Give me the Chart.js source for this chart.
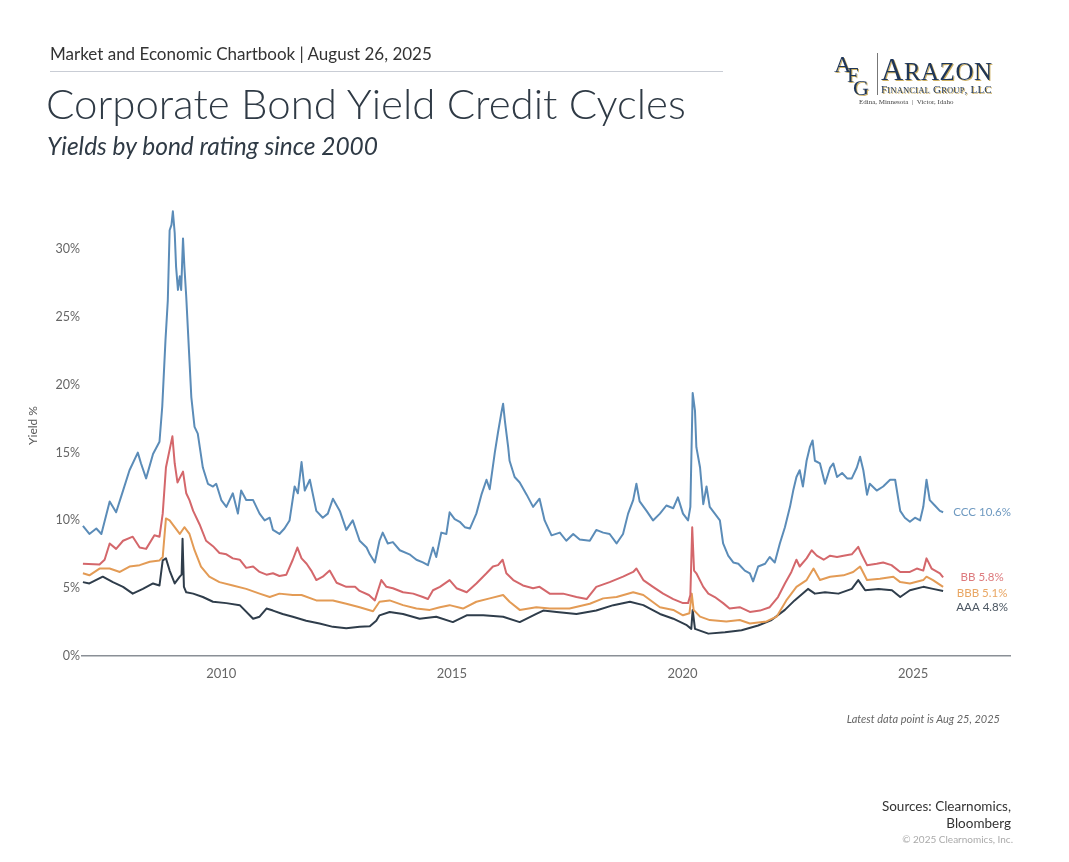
<!DOCTYPE html>
<html lang="en">

<head>
    <meta charset="UTF-8">
    <title>Corporate Bond Yield Credit Cycles</title>
    <script src="https://cdn.jsdelivr.net/npm/chart.js"></script>
    <style>
        body { margin: 0; background: #fff; font-family: Lato, "Open Sans", sans-serif; }
        .page { position: relative; width: 1069px; height: 862px; overflow: hidden; }
        #chart { position: absolute; left: 0; top: 0; }
        .txt { position: absolute; white-space: nowrap; }
        .kicker { left: 50px; top: 43px; font-size: 17px; color: #333; }
        .rule { position: absolute; left: 50px; top: 71px; width: 673px; height: 0; border-top: 1.5px solid #c9cdd5; }
        .title { left: 46px; top: 78px; font-size: 42px; font-weight: 300; color: #2f3a45; }
        .subtitle { left: 47px; top: 131px; font-size: 24.5px; font-style: italic; color: #2f3a45; }
        .note { right: 69px; top: 712px; font-size: 11px; font-style: italic; color: #666; }
        .src { right: 58px; top: 798px; font-size: 13.5px; color: #333; text-align: right; line-height: 17px; }
        .copy { right: 56px; top: 833px; font-size: 10px; color: #aaa; }
        .logo { position: absolute; left: 832px; top: 50px; width: 175px; height: 62px; font-family: "Liberation Serif", "DejaVu Serif", serif; color: #1f3658; }
        .logo span { position: absolute; text-shadow: 1px 1px 0 #cdb062; }
        .logo .bar { position: absolute; left: 45px; top: 3px; width: 1px; height: 42px; background: #777; }
    </style>
</head>

<body>
    <div class="page">
        <canvas id="chart" width="1069" height="862"></canvas>
        <div class="txt kicker">Market and Economic Chartbook | August 26, 2025</div>
        <div class="rule"></div>
        <div class="txt title">Corporate Bond Yield Credit Cycles</div>
        <div class="txt subtitle">Yields by bond rating since 2000</div>
        <div class="logo">
            <span style="left:2px; top:1px; font-size:24px;">A</span>
            <span style="left:15px; top:13px; font-size:21px;">F</span>
            <span style="left:21px; top:25px; font-size:22px;">G</span>
            <div class="bar"></div>
            <span style="left:49px; top:2px; font-size:31px; letter-spacing:0.5px;">A<span style="position:static; font-size:25px;">RAZON</span></span>
            <span style="left:49px; top:33px; font-size:11px; letter-spacing:0.2px;">F<span style="position:static; font-size:8.5px;">INANCIAL</span> G<span style="position:static; font-size:8.5px;">ROUP</span>, LLC</span>
            <span style="left:27px; top:48px; font-size:7px; color:#444; text-shadow:none;">Edina, Minnesota&nbsp; | &nbsp;Victor, Idaho</span>
        </div>
        <div class="txt note">Latest data point is Aug 25, 2025</div>
        <div class="txt src">Sources: Clearnomics,<br>Bloomberg</div>
        <div class="txt copy">© 2025 Clearnomics, Inc.</div>
    </div>
</body>
<script>
    // yields (%), dates as decimal years
    const cccDates = [
        2007.00, 2007.14, 2007.29, 2007.40, 2007.58, 2007.72, 2007.87, 2008.01, 2008.19, 2008.26,
        2008.37, 2008.52, 2008.66, 2008.72, 2008.79, 2008.84, 2008.88, 2008.92, 2008.95, 2008.99,
        2009.02, 2009.06, 2009.10, 2009.13, 2009.17, 2009.20, 2009.24, 2009.31, 2009.35, 2009.42,
        2009.49, 2009.60, 2009.71, 2009.82, 2009.89, 2010.00, 2010.11, 2010.25, 2010.36, 2010.43,
        2010.54, 2010.69, 2010.83, 2010.94, 2011.05, 2011.12, 2011.26, 2011.37, 2011.48, 2011.59,
        2011.66, 2011.74, 2011.81, 2011.92, 2012.06, 2012.20, 2012.31, 2012.42, 2012.57, 2012.71,
        2012.85, 2013.00, 2013.15, 2013.22, 2013.33, 2013.43, 2013.50, 2013.61, 2013.72, 2013.87,
        2014.08, 2014.23, 2014.37, 2014.48, 2014.59, 2014.66, 2014.77, 2014.88, 2014.95, 2015.06,
        2015.17, 2015.28, 2015.39, 2015.53, 2015.64, 2015.75, 2015.82, 2015.93, 2016.00, 2016.07,
        2016.11, 2016.15, 2016.22, 2016.25, 2016.36, 2016.47, 2016.62, 2016.76, 2016.90, 2017.01,
        2017.16, 2017.34, 2017.48, 2017.63, 2017.77, 2017.99, 2018.13, 2018.28, 2018.42, 2018.57,
        2018.71, 2018.82, 2018.93, 2019.00, 2019.07, 2019.22, 2019.36, 2019.51, 2019.65, 2019.80,
        2019.90, 2020.01, 2020.12, 2020.17, 2020.22, 2020.27, 2020.30, 2020.38, 2020.45, 2020.52,
        2020.59, 2020.70, 2020.81, 2020.88, 2020.99, 2021.10, 2021.21, 2021.35, 2021.46, 2021.53,
        2021.64, 2021.79, 2021.89, 2022.00, 2022.11, 2022.22, 2022.33, 2022.40, 2022.47, 2022.54,
        2022.61, 2022.69, 2022.76, 2022.82, 2022.87, 2022.98, 2023.09, 2023.20, 2023.27, 2023.35,
        2023.46, 2023.57, 2023.67, 2023.78, 2023.85, 2023.92, 2024.00, 2024.06, 2024.21, 2024.35,
        2024.50, 2024.61, 2024.72, 2024.82, 2024.93, 2025.04, 2025.15, 2025.22, 2025.29, 2025.36,
        2025.47, 2025.58, 2025.65
    ];
    const cccYields = [
        9.6, 9.0, 9.4, 9.0, 11.4, 10.6, 12.2, 13.7, 15.0, 14.2,
        13.1, 14.9, 15.8, 18.4, 23.3, 26.2, 31.4, 31.8, 32.8, 31.2,
        28.7, 27.0, 28.0, 27.0, 30.8, 28.7, 26.5, 21.8, 19.1, 16.9,
        16.4, 13.9, 12.7, 12.5, 12.7, 11.5, 11.0, 12.0, 10.5, 12.2,
        11.5, 11.5, 10.5, 10.0, 10.2, 9.3, 9.0, 9.4, 10.0, 12.5,
        12.0, 14.3, 12.2, 13.0, 10.7, 10.2, 10.5, 11.6, 10.7, 9.3,
        10.0, 8.5, 8.0, 7.5, 6.9, 8.5, 9.1, 8.3, 8.4, 7.8,
        7.5, 7.1, 6.9, 6.7, 8.0, 7.3, 9.1, 9.0, 10.6, 10.1,
        9.9, 9.5, 9.4, 10.5, 11.9, 13.0, 12.3, 15.0, 16.5, 17.9,
        18.6, 17.3, 15.4, 14.4, 13.2, 12.8, 11.9, 11.0, 11.6, 10.0,
        8.9, 9.1, 8.5, 9.0, 8.6, 8.5, 9.3, 9.1, 9.0, 8.3,
        9.0, 10.5, 11.5, 12.7, 11.4, 10.7, 10.0, 10.5, 11.1, 10.9,
        11.7, 10.5, 10.0, 11.0, 19.4, 18.1, 15.4, 13.9, 11.2, 12.5,
        11.0, 10.5, 10.0, 8.3, 7.4, 6.9, 6.8, 6.3, 6.1, 5.5,
        6.6, 6.8, 7.3, 6.9, 8.3, 9.5, 11.0, 12.2, 13.2, 13.7,
        12.5, 14.4, 15.4, 15.9, 14.4, 14.2, 12.7, 13.9, 14.2, 13.2,
        13.5, 13.1, 13.1, 13.9, 14.7, 13.7, 11.9, 12.7, 12.2, 12.5,
        13.0, 13.0, 10.7, 10.2, 9.9, 10.2, 10.0, 11.0, 13.0, 11.5,
        11.1, 10.7, 10.6
    ];

    const bbDates = [
        2007.00, 2007.36, 2007.47, 2007.58, 2007.72, 2007.87, 2008.08, 2008.23, 2008.37, 2008.55,
        2008.66, 2008.73, 2008.80, 2008.94, 2008.99, 2009.05, 2009.17, 2009.24, 2009.31, 2009.39,
        2009.53, 2009.67, 2009.82, 2009.96, 2010.11, 2010.25, 2010.40, 2010.54, 2010.69, 2010.83,
        2010.98, 2011.12, 2011.26, 2011.41, 2011.55, 2011.65, 2011.74, 2011.85, 2011.95, 2012.06,
        2012.20, 2012.35, 2012.50, 2012.71, 2012.90, 2013.00, 2013.20, 2013.33, 2013.47, 2013.58,
        2013.72, 2013.94, 2014.16, 2014.37, 2014.48, 2014.59, 2014.74, 2014.95, 2015.10, 2015.32,
        2015.53, 2015.75, 2015.89, 2016.00, 2016.10, 2016.18, 2016.33, 2016.54, 2016.76, 2016.90,
        2017.12, 2017.41, 2017.70, 2017.92, 2018.13, 2018.42, 2018.71, 2018.93, 2019.00, 2019.15,
        2019.36, 2019.58, 2019.80, 2020.01, 2020.12, 2020.17, 2020.21, 2020.25, 2020.30, 2020.45,
        2020.56, 2020.70, 2020.88, 2021.02, 2021.24, 2021.46, 2021.68, 2021.89, 2022.07, 2022.22,
        2022.36, 2022.47, 2022.54, 2022.69, 2022.80, 2022.91, 2023.06, 2023.20, 2023.35, 2023.49,
        2023.67, 2023.81, 2023.88, 2024.00, 2024.21, 2024.35, 2024.53, 2024.72, 2024.93, 2025.08,
        2025.22, 2025.29, 2025.40, 2025.58, 2025.65
    ];
    const bbYields = [
        6.8, 6.75, 7.1, 8.3, 7.9, 8.5, 8.8, 8.0, 7.9, 8.9,
        8.8, 10.5, 13.9, 16.2, 14.2, 12.8, 13.6, 12.0, 11.5, 10.7,
        9.7, 8.5, 8.1, 7.6, 7.5, 7.2, 7.1, 6.5, 6.6, 6.2,
        6.0, 6.1, 5.9, 6.0, 7.1, 8.0, 7.2, 6.8, 6.3, 5.6,
        5.85, 6.3, 5.4, 5.1, 5.1, 4.8, 4.5, 4.1, 5.6, 5.1,
        5.0, 4.7, 4.6, 4.35, 4.2, 4.85, 5.1, 5.6, 5.0, 4.7,
        5.35, 6.1, 6.6, 6.7, 7.1, 6.1, 5.6, 5.2, 5.0, 5.1,
        4.6, 4.6, 4.35, 4.2, 5.1, 5.45, 5.85, 6.2, 6.45, 5.6,
        5.1, 4.6, 4.2, 3.9, 3.9, 4.5, 9.5, 6.3, 6.1, 5.1,
        4.6, 4.35, 3.9, 3.5, 3.6, 3.25, 3.35, 3.6, 4.35, 5.35,
        6.2, 7.1, 6.6, 7.2, 7.8, 7.4, 7.1, 7.4, 7.3, 7.4,
        7.5, 8.05, 7.5, 6.7, 6.8, 6.9, 6.7, 6.2, 6.2, 6.45,
        6.3, 7.2, 6.45, 6.1, 5.8
    ];

    const bbbDates = [
        2007.00, 2007.14, 2007.36, 2007.58, 2007.80, 2008.01, 2008.23, 2008.45, 2008.66, 2008.73,
        2008.80, 2008.88, 2008.99, 2009.10, 2009.20, 2009.31, 2009.42, 2009.56, 2009.74, 2009.96,
        2010.25, 2010.54, 2010.83, 2011.05, 2011.26, 2011.55, 2011.74, 2012.06, 2012.42, 2012.71,
        2013.00, 2013.29, 2013.43, 2013.65, 2013.94, 2014.23, 2014.52, 2014.74, 2014.95, 2015.24,
        2015.53, 2015.82, 2016.11, 2016.25, 2016.47, 2016.83, 2017.12, 2017.55, 2017.99, 2018.28,
        2018.57, 2018.93, 2019.15, 2019.51, 2019.80, 2020.01, 2020.15, 2020.20, 2020.24, 2020.38,
        2020.59, 2020.95, 2021.24, 2021.46, 2021.82, 2022.04, 2022.25, 2022.47, 2022.69, 2022.84,
        2022.98, 2023.20, 2023.49, 2023.70, 2023.85, 2024.00, 2024.28, 2024.57, 2024.72, 2024.93,
        2025.22, 2025.29, 2025.43, 2025.65
    ];
    const bbbYields = [
        6.1, 5.95, 6.45, 6.45, 6.2, 6.6, 6.7, 6.95, 7.05, 7.3,
        10.15, 10.0, 9.5, 9.0, 9.5, 9.0, 7.8, 6.6, 5.85, 5.45,
        5.2, 4.95, 4.6, 4.35, 4.6, 4.5, 4.5, 4.1, 4.1, 3.85,
        3.6, 3.3, 4.0, 4.1, 3.75, 3.5, 3.4, 3.6, 3.75, 3.5,
        4.0, 4.25, 4.5, 4.0, 3.4, 3.6, 3.5, 3.5, 3.85, 4.25,
        4.35, 4.7, 4.5, 3.6, 3.4, 3.0, 3.15, 4.6, 3.4, 2.9,
        2.65, 2.55, 2.65, 2.4, 2.55, 2.9, 4.1, 5.1, 5.6, 6.45,
        5.6, 5.85, 5.95, 6.2, 6.6, 5.6, 5.7, 5.85, 5.45, 5.35,
        5.6, 5.85, 5.6, 5.1
    ];

    const aaaDates = [
        2007.00, 2007.14, 2007.43, 2007.65, 2007.87, 2008.08, 2008.30, 2008.52, 2008.66, 2008.73,
        2008.80, 2008.88, 2008.99, 2009.10, 2009.14, 2009.16, 2009.19, 2009.24, 2009.39, 2009.60,
        2009.82, 2010.11, 2010.40, 2010.69, 2010.83, 2010.98, 2011.12, 2011.33, 2011.55, 2011.84,
        2012.13, 2012.42, 2012.71, 2013.00, 2013.22, 2013.36, 2013.43, 2013.65, 2013.94, 2014.30,
        2014.66, 2015.02, 2015.32, 2015.68, 2016.11, 2016.47, 2016.83, 2016.98, 2017.27, 2017.70,
        2018.13, 2018.50, 2018.86, 2019.15, 2019.51, 2019.80, 2020.08, 2020.19, 2020.22, 2020.27,
        2020.56, 2020.92, 2021.28, 2021.64, 2021.93, 2022.22, 2022.43, 2022.72, 2022.87, 2023.09,
        2023.38, 2023.67, 2023.81, 2023.96, 2024.25, 2024.54, 2024.72, 2024.93, 2025.22, 2025.43,
        2025.65
    ];
    const aaaYields = [
        5.45, 5.35, 5.85, 5.45, 5.1, 4.6, 4.95, 5.35, 5.2, 7.05,
        7.2, 6.3, 5.35, 5.85, 6.0, 8.65, 5.1, 4.7, 4.6, 4.35,
        4.0, 3.9, 3.75, 2.75, 2.9, 3.5, 3.35, 3.1, 2.9, 2.6,
        2.4, 2.15, 2.05, 2.15, 2.2, 2.6, 3.0, 3.25, 3.1, 2.75,
        2.9, 2.5, 3.0, 3.0, 2.9, 2.5, 3.1, 3.35, 3.25, 3.1,
        3.35, 3.75, 4.0, 3.75, 3.1, 2.75, 2.3, 2.0, 3.4, 2.0,
        1.65, 1.75, 1.9, 2.25, 2.65, 3.4, 4.1, 4.95, 4.6, 4.7,
        4.6, 4.95, 5.6, 4.85, 4.95, 4.85, 4.35, 4.85, 5.1, 4.95,
        4.8
    ];

    const ratings = ['CCC', 'BB', 'BBB', 'AAA'];
    const xTickYears = [2010, 2015, 2020, 2025];

    const lineColors = ['#5b8cb8', '#d4676b', '#e39b55', '#2f3d4b'];
    const labelColors = ['#6e99c0', '#dd7a7d', '#e9a663', '#4b5662'];
    const labelShift = [0, 0, 6, 16];   // px nudges so end labels don't collide

    function pts(dates, vals) {
        return dates.map((d, i) => ({ x: d, y: vals[i] }));
    }
    const seriesData = [
        pts(cccDates, cccYields),
        pts(bbDates, bbYields),
        pts(bbbDates, bbbYields),
        pts(aaaDates, aaaYields)
    ];

    const endLabels = {
        id: 'endLabels',
        afterDatasetsDraw(chart) {
            const ctx = chart.ctx;
            ctx.save();
            ctx.font = '11.5px Lato, sans-serif';
            ctx.textAlign = 'center';
            ctx.textBaseline = 'middle';
            chart.data.datasets.forEach((ds, i) => {
                const meta = chart.getDatasetMeta(i);
                const last = meta.data[meta.data.length - 1];
                const v = ds.data[ds.data.length - 1].y;
                ctx.fillStyle = labelColors[i];
                ctx.fillText(ratings[i] + ' ' + v.toFixed(1) + '%', last.x + 39, last.y + labelShift[i]);
            });
            ctx.restore();
        }
    };

    new Chart(document.getElementById('chart'), {
        type: 'line',
        data: {
            datasets: ratings.map((r, i) => ({
                label: r,
                data: seriesData[i],
                borderColor: lineColors[i],
                borderWidth: 2,
                pointRadius: 0,
                tension: 0,
                borderJoinStyle: 'round'
            }))
        },
        options: {
            responsive: false,
            animation: false,
            layout: { padding: { left: 20, right: 59, top: 195, bottom: 156 } },
            scales: {
                x: {
                    type: 'linear',
                    min: 2006.98,
                    max: 2027.1,
                    afterBuildTicks: s => { s.ticks = xTickYears.map(v => ({ value: v })); },
                    afterFit: s => { s.height = 50; },
                    grid: { display: false, drawTicks: false },
                    border: { display: true, color: '#8a8f96', width: 1.5 },
                    ticks: {
                        padding: 10,
                        color: '#666',
                        font: { family: 'Lato', size: 13 },
                        callback: v => String(v)
                    }
                },
                y: {
                    min: 0,
                    max: 34,
                    afterFit: s => { s.width = 62; },
                    grid: { display: false, drawTicks: false },
                    border: { display: false },
                    ticks: {
                        stepSize: 5,
                        includeBounds: false,
                        padding: 2,
                        color: '#666',
                        font: { family: 'Lato', size: 12.5 },
                        callback: v => v + '%'
                    },
                    title: {
                        display: true,
                        text: 'Yield %',
                        color: '#555',
                        font: { family: 'Lato', size: 12 },
                        padding: { top: 6, bottom: 4 }
                    }
                }
            },
            plugins: {
                legend: { display: false },
                tooltip: { enabled: false }
            }
        },
        plugins: [endLabels]
    });
</script>

</html>
